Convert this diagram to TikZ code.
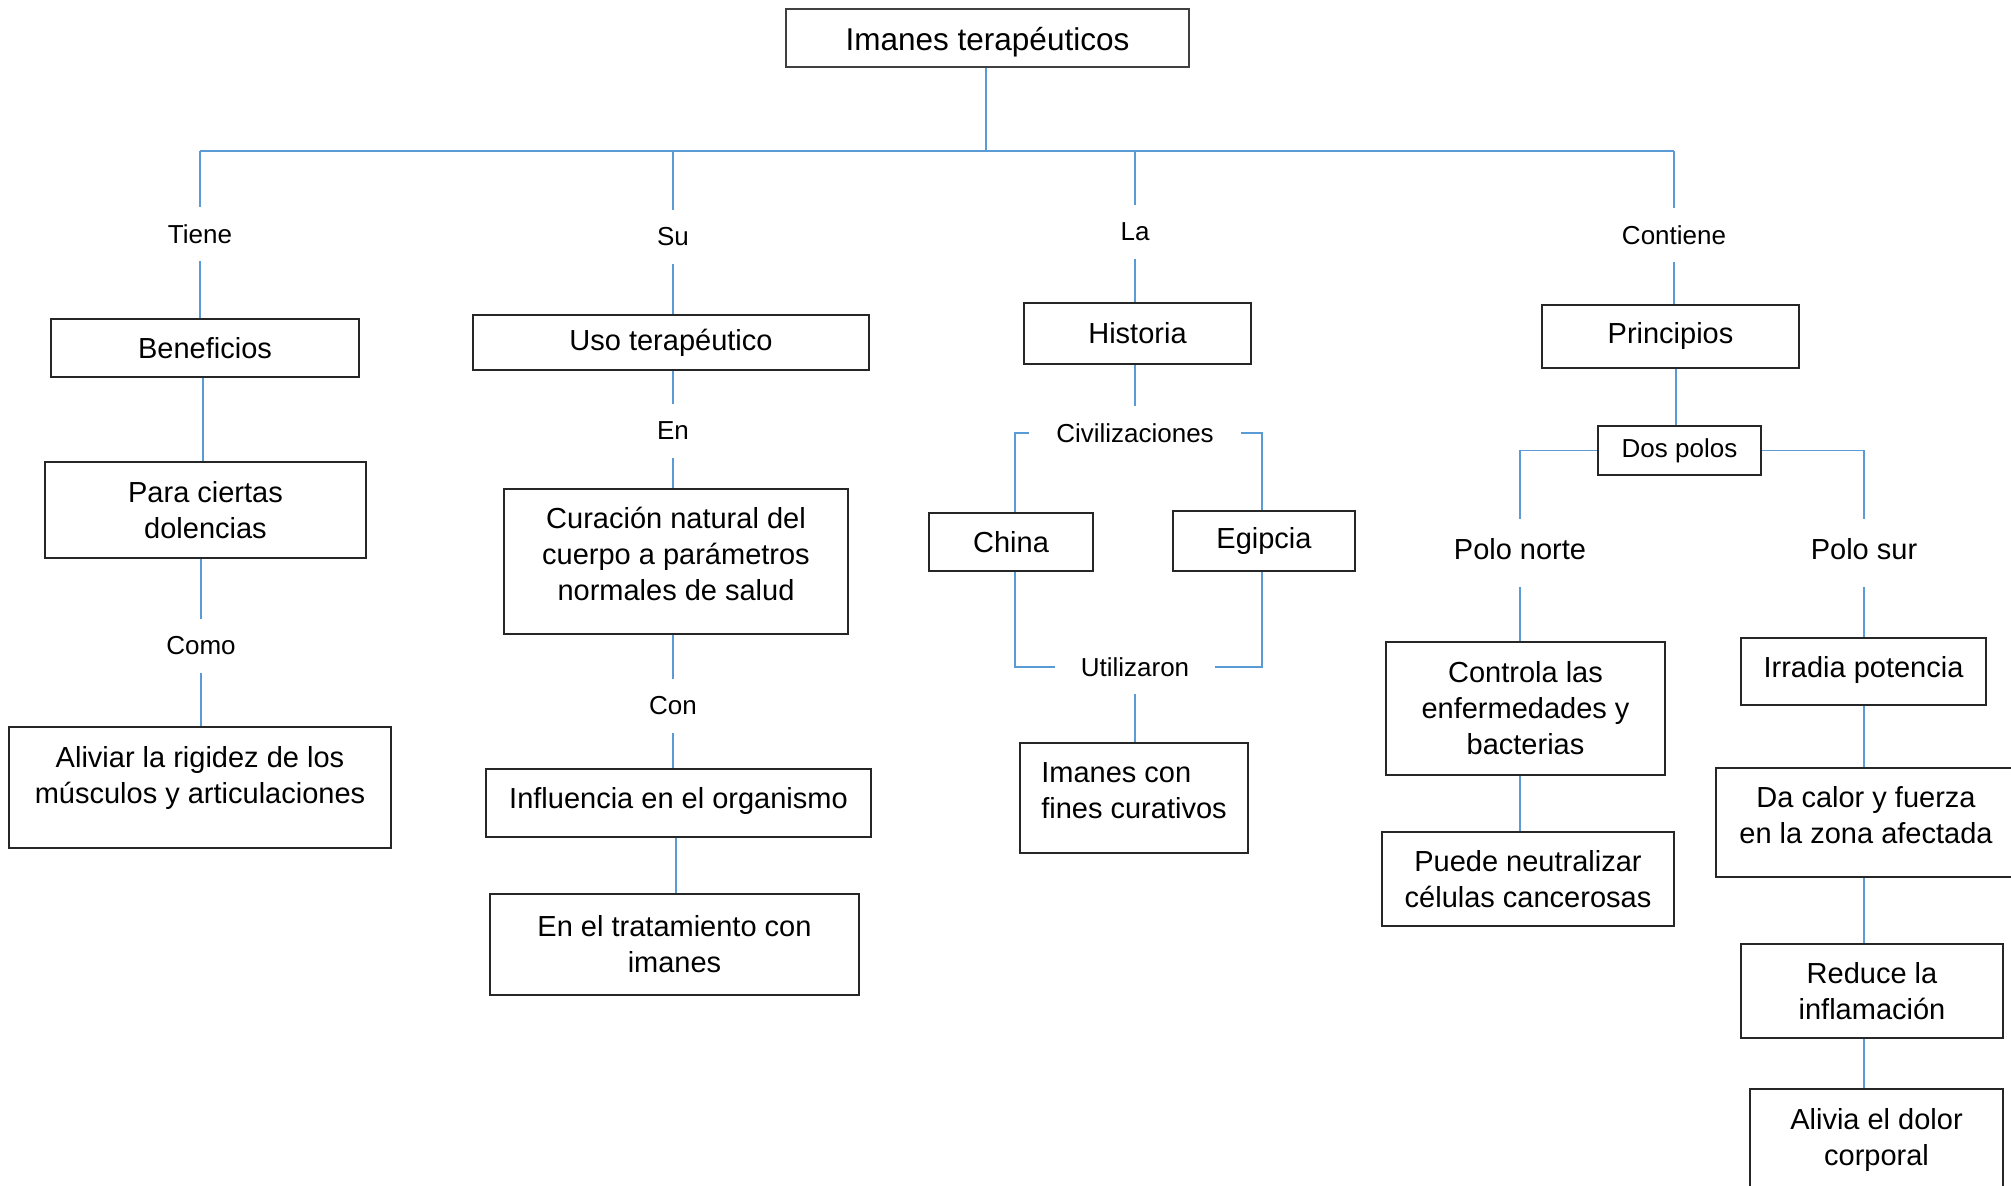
\documentclass[tikz,border=0pt]{standalone}
\usepackage{fontspec}
\setmainfont{Liberation Sans}
\definecolor{linkblue}{HTML}{5B9BD5}
\newcommand\dep[1]{\rule[-#1]{0pt}{#1}}
\newcommand\boxfont{\fontsize{14.5}{18}\selectfont}
\newcommand\labfont{\fontsize{13}{16}\selectfont}
\newcommand\titlefont{\fontsize{15.75}{19}\selectfont}
\begin{document}
\begin{tikzpicture}[x=0.5pt,y=-0.5pt,
  box/.style={draw=black!85, line width=1pt, inner sep=0pt, align=center, font=\boxfont},
  lab/.style={font=\labfont, inner xsep=13.5pt, inner ysep=0pt, minimum height=27pt},
  pole/.style={font=\boxfont, inner xsep=13.5pt, inner ysep=0pt, minimum height=33.5pt},
  conn/.style={draw=linkblue, line width=0.8pt}]
\useasboundingbox (0,0) rectangle (2011,1186);
\clip (0,0) rectangle (2011,1186);
\fill[white] (0,0) rectangle (2011,1186);

% title
\node[box, draw=black!75, line width=1.2pt, font=\titlefont, minimum width=201.5pt, minimum height=29pt] (title) at (987.5,38) {\rule{0pt}{15.4pt}Imanes terapéuticos};
\coordinate (busL) at (200,151);
\coordinate (busR) at (1674,151);

% branch 1
\node[lab] (tiene) at (200,234) {Tiene};
\node[box, minimum width=154pt, minimum height=29pt] (benef) at (205,348) {Beneficios};
\node[box, minimum width=160.5pt, minimum height=48pt] (para) at (205.5,510) {Para ciertas\\dolencias};
\node[lab] (como) at (201,646) {Como};
\node[box, minimum width=191pt, minimum height=60.5pt] (aliviar) at (200,787.5) {Aliviar la rigidez de los\\músculos y articulaciones\dep{13pt}};

% branch 2
\node[lab] (su) at (673,237) {Su};
\node[box, minimum width=198pt, minimum height=27.5pt] (uso) at (671,342.5) {Uso terapéutico};
\node[lab] (en) at (673,431) {En};
\node[box, minimum width=172pt, minimum height=72.5pt] (cura) at (676,561.5) {Curación natural del\\cuerpo a parámetros\\normales de salud\dep{8pt}};
\node[lab] (con) at (673,706) {Con};
\node[box, minimum width=192.5pt, minimum height=34pt] (infl) at (678.5,803) {Influencia en el organismo\dep{5pt}};
\node[box, minimum width=184.5pt, minimum height=50.5pt] (trat) at (674.5,944.5) {En el tratamiento con\\imanes};

% branch 3
\node[lab] (la) at (1135,232) {La};
\node[box, minimum width=113.5pt, minimum height=30.5pt] (hist) at (1137.5,333.5) {Historia};
\node[lab] (civ) at (1135,433) {Civilizaciones};
\node[box, minimum width=82pt, minimum height=29pt] (china) at (1011,542) {China};
\node[box, minimum width=91pt, minimum height=30pt] (egip) at (1264,541) {Egipcia};
\node[lab, inner xsep=12.5pt] (util) at (1135,667) {Utilizaron};
\node[box, align=left, minimum width=114pt, minimum height=55pt] (imcon) at (1134,798) {Imanes con\\fines curativos\dep{7.5pt}};

% branch 4
\node[lab] (cont) at (1674,235) {Contiene};
\node[box, minimum width=128.5pt, minimum height=31.5pt] (princ) at (1670.5,336.5) {Principios};
\node[box, font=\labfont, minimum width=81.5pt, minimum height=24.5pt] (dos) at (1679.5,450.5) {Dos polos};
\node[pole] (pnorte) at (1520,553) {Polo norte\dep{4pt}};
\node[pole] (psur) at (1864,553) {Polo sur\dep{4pt}};
\node[box, minimum width=139.5pt, minimum height=66.5pt] (ctrl) at (1525.5,708.5) {Controla las\\enfermedades y\\bacterias};
\node[box, minimum width=146pt, minimum height=47pt] (puede) at (1528,879) {Puede neutralizar\\células cancerosas};
\node[box, minimum width=122.5pt, minimum height=33.5pt] (irr) at (1863.5,671.5) {Irradia potencia\dep{4.5pt}};
\node[box, minimum width=150pt, minimum height=54.5pt] (dacal) at (1866,822.5) {Da calor y fuerza\\en la zona afectada\dep{7.5pt}};
\node[box, minimum width=131pt, minimum height=47pt] (reduce) at (1872,991) {Reduce la\\inflamación};
\node[box, minimum width=126.5pt, minimum height=65pt] (alivia) at (1876.5,1154) {Alivia el dolor\\corporal\dep{17.5pt}};

% connectors
\draw[conn] ([xshift=-0.75pt]title.south) -- ([xshift=-0.75pt]title.south |- busL);
\draw[conn] (busL) -- (busR);
\foreach \n in {tiene,su,la,cont} \draw[conn] (\n) -- (\n |- busL);
\draw[conn] (tiene) -- (tiene |- benef.north);
\draw[conn] ([xshift=-1pt]benef.south) -- ([xshift=-1pt]benef.south |- para.north);
\draw[conn] (como) -- (como |- para.south);
\draw[conn] (como) -- (como |- aliviar.north);
\draw[conn] (su) -- (su |- uso.north);
\draw[conn] (en) -- (en |- uso.south);
\draw[conn] (en) -- (en |- cura.north);
\draw[conn] (con) -- (con |- cura.south);
\draw[conn] (con) -- (con |- infl.north);
\draw[conn] ([xshift=-1.25pt]infl.south) -- ([xshift=-1.25pt]infl.south |- trat.north);
\draw[conn] (la) -- (la |- hist.north);
\draw[conn] (civ) -- (civ |- hist.south);
\draw[conn] (civ) -| ([xshift=2pt]china.north);
\draw[conn] (civ) -| ([xshift=-1pt]egip.north);
\draw[conn] ([xshift=2pt]china.south) |- (util);
\draw[conn] ([xshift=-1pt]egip.south) |- (util);
\draw[conn] (util) -- (util |- imcon.north);
\draw[conn] (cont) -- (cont |- princ.north);
\draw[conn] ([xshift=-1.75pt]dos.north) -- ([xshift=-1.75pt]dos.north |- princ.south);
\draw[conn] (dos) -| (pnorte);
\draw[conn] (dos) -| (psur);
\draw[conn] (pnorte) -- (pnorte |- ctrl.north);
\draw[conn] (ctrl.south -| pnorte) -- (puede.north -| pnorte);
\draw[conn] (psur) -- (psur |- irr.north);
\draw[conn] (irr.south -| psur) -- (dacal.north -| psur);
\draw[conn] (dacal.south -| psur) -- (reduce.north -| psur);
\draw[conn] (reduce.south -| psur) -- (alivia.north -| psur);
\end{tikzpicture}
\end{document}
